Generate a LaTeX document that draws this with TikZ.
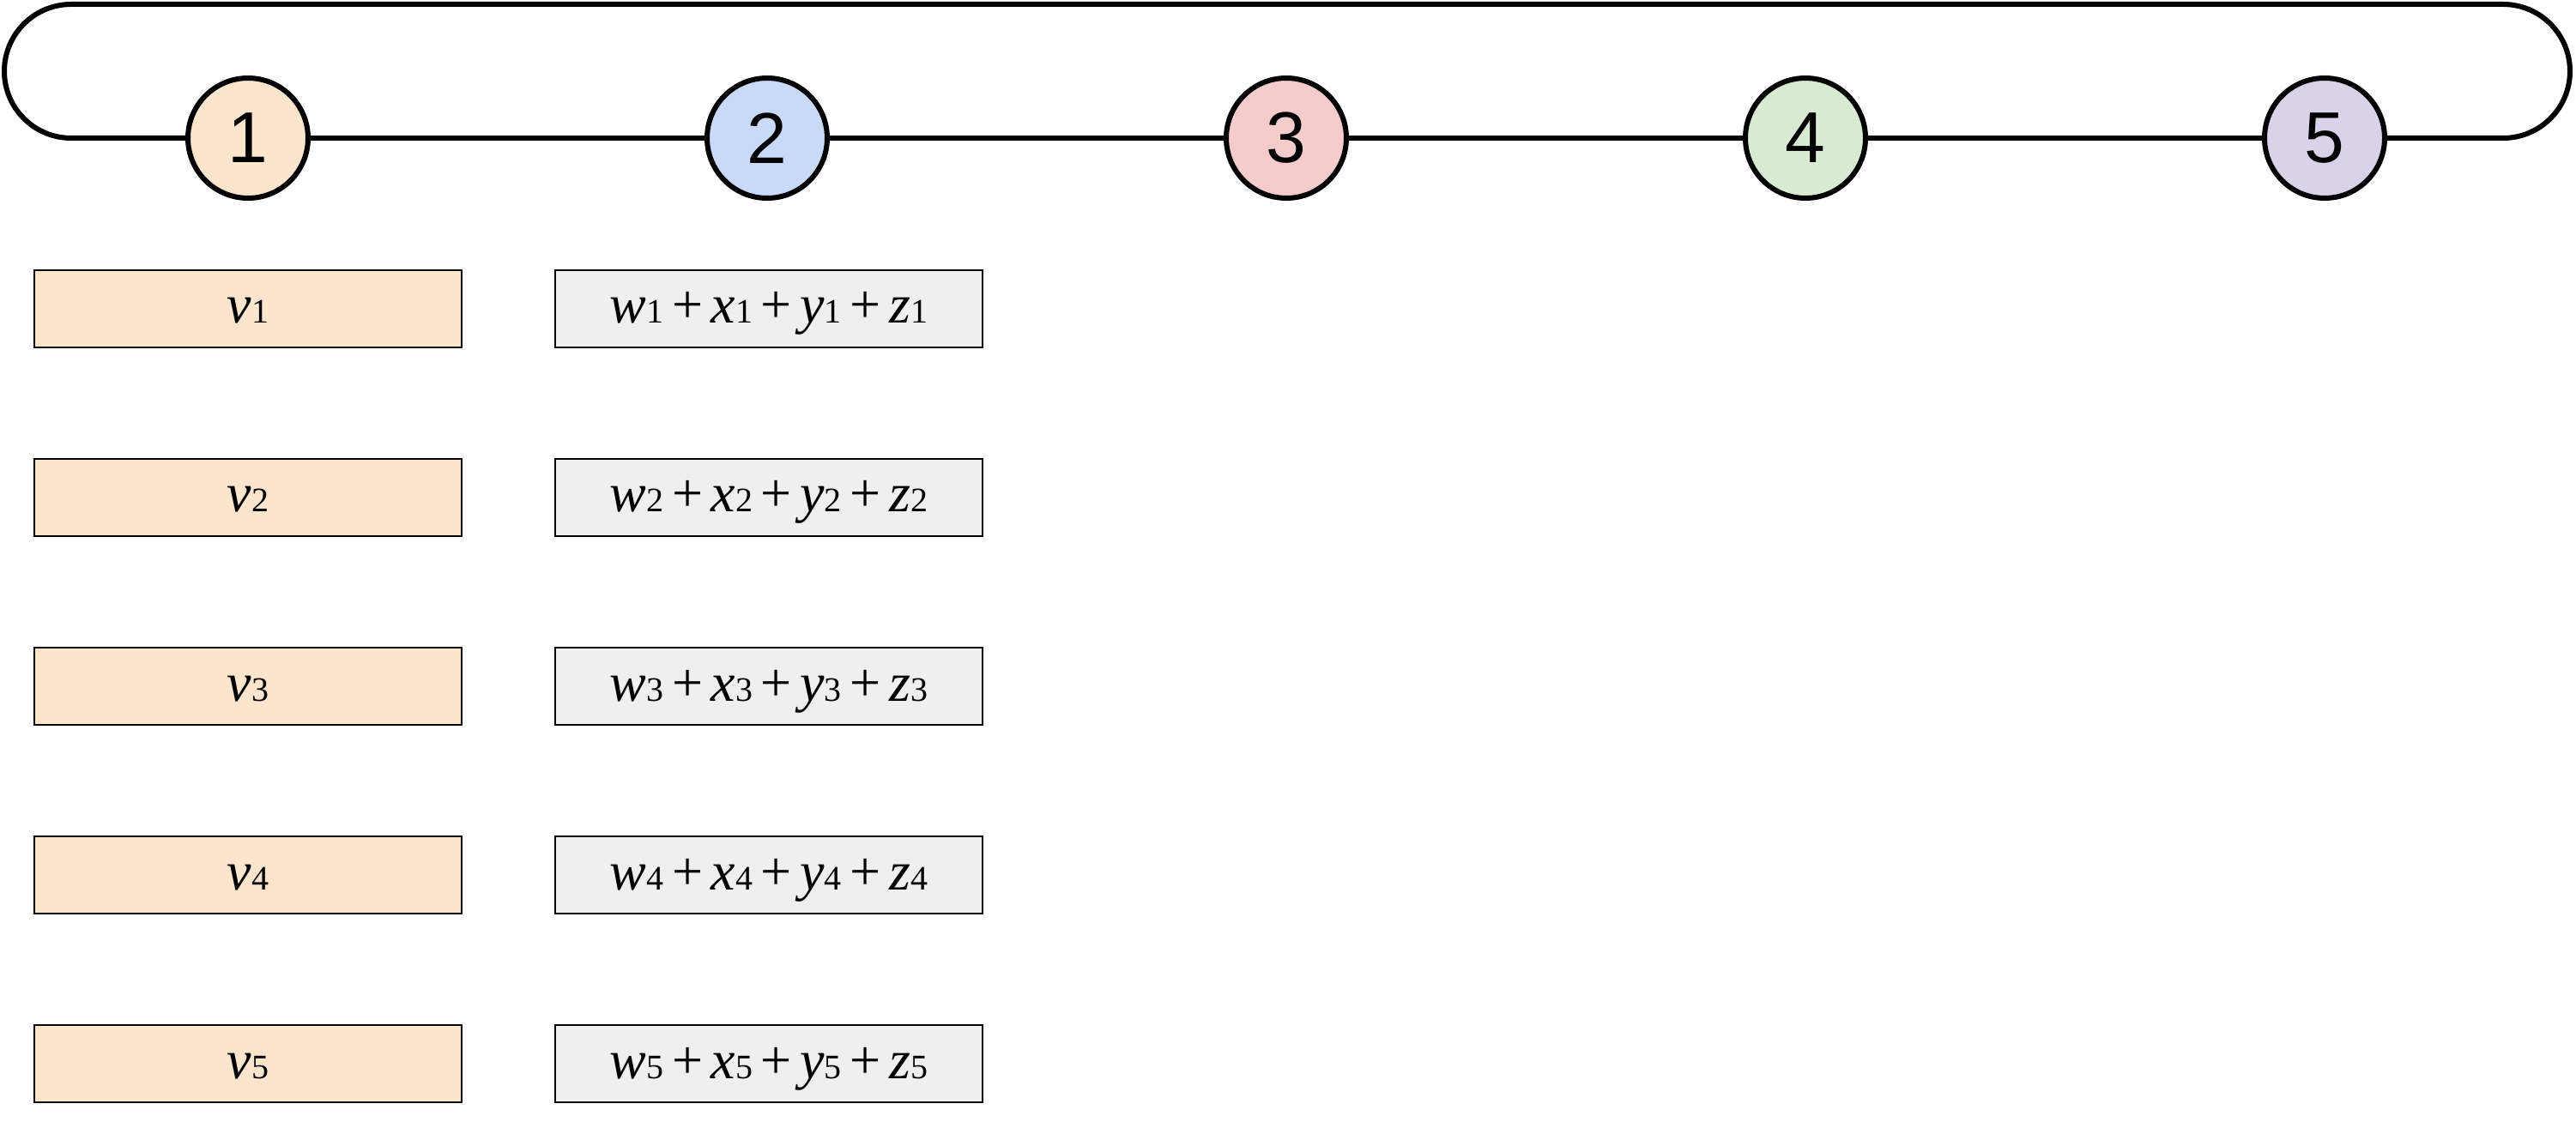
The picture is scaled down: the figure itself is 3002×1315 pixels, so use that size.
\documentclass[tikz,border=0pt]{standalone}
\usepackage{fontspec}
\setmainfont{Liberation Serif}
\newfontfamily\numfont{Liberation Sans}
\definecolor{corange}{HTML}{FCE5CD}
\definecolor{cblue}{HTML}{C9DAF8}
\definecolor{cred}{HTML}{F4CCCC}
\definecolor{cgreen}{HTML}{D9EAD3}
\definecolor{cpurple}{HTML}{D9D2E9}
\definecolor{cgray}{HTML}{EFEFEF}
\newcommand\tv[2]{\textit{#1}{\fontsize{10}{12}\selectfont #2}}
\newcommand\pl{\hspace{2.4pt}+\hspace{2.4pt}}
\newcommand\srow[1]{\tv{w}{#1}\pl\tv{x}{#1}\pl\tv{y}{#1}\pl\tv{z}{#1}}
\begin{document}
\begin{tikzpicture}[x=0.25pt,y=-0.25pt,
  stage/.style={circle,draw,line width=1.5pt,minimum size=35pt,inner sep=0pt,
    font=\numfont\fontsize{21}{24}\selectfont},
  cell/.style={draw,line width=0.6pt,minimum width=124.5pt,minimum height=22.5pt,
    inner sep=0pt,text height=8.5pt,text depth=0pt,font=\fontsize{16}{19}\selectfont},
  vcell/.style={cell,fill=corange},
  scell/.style={cell,fill=cgray},
  ring/.style={line width=1.5pt}]
\useasboundingbox (0,0) rectangle (3002,1315);
% loop
\coordinate (bl) at (5,161);
\coordinate (tl) at (5,5);
\coordinate (tr) at (2995,5);
\coordinate (br) at (2995,161);
\node[stage,fill=corange] (c1) at (289,161) {1};
\node[stage,fill=cblue]   (c2) at (894,161) {2};
\node[stage,fill=cred]    (c3) at (1499,161) {3};
\node[stage,fill=cgreen]  (c4) at (2104,161) {4};
\node[stage,fill=cpurple] (c5) at (2709,161) {5};
\draw[ring,rounded corners=19.5pt] (c1.west) -- (bl) -- (tl) -- (tr) -- (br) -- (c5.east);
\draw[ring] (c1) -- (c2);
\draw[ring] (c2) -- (c3);
\draw[ring] (c3) -- (c4);
\draw[ring] (c4) -- (c5);
% boxes
\foreach \i/\yy in {1/360,2/580,3/800,4/1020,5/1240}{
  \node[vcell] (v\i) at (289,\yy) {\tv{v}{\i}};
  \node[scell] (s\i) at (896,\yy) {\srow{\i}};
}
\end{tikzpicture}
\end{document}
